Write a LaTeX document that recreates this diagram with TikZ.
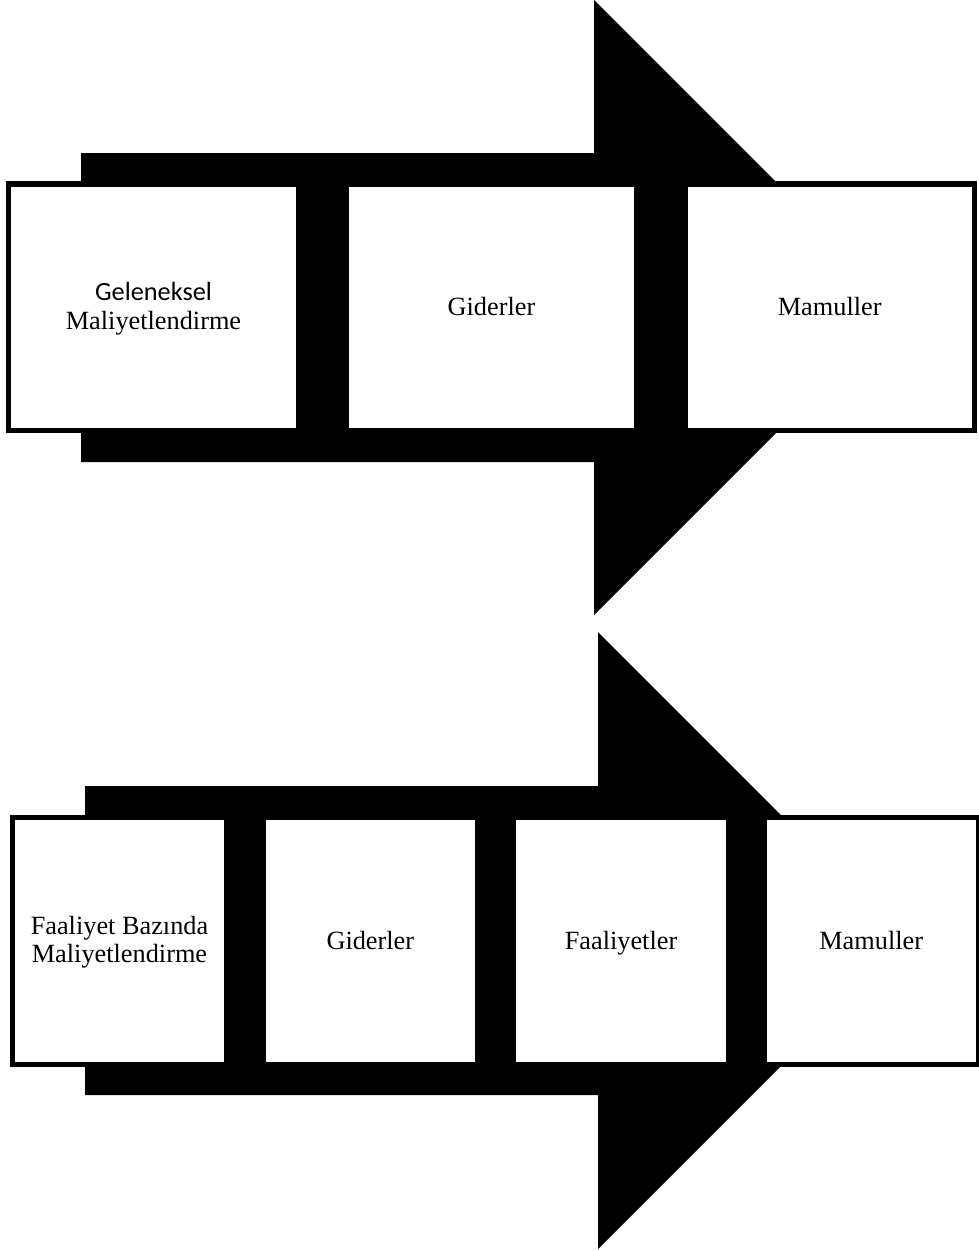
\documentclass[tikz,border=0pt]{standalone}
\usepackage{fontspec}
\setmainfont{Liberation Serif}
\newfontfamily\calibrifont{Carlito}
\begin{document}
\begin{tikzpicture}[x=1pt,y=-1pt,
  box/.style={draw=black, line width=5.3pt, fill=white, rectangle, inner sep=0pt, outer sep=0pt},
  topbox/.style={box, minimum width=290.4pt, minimum height=246.3pt},
  botbox/.style={box, minimum width=214.5pt, minimum height=246.7pt},
  lbl/.style={inner sep=0pt, outer sep=0pt, anchor=base, font=\fontsize{26.3}{28}\selectfont},
  lblsans/.style={lbl, font=\calibrifont\fontsize{26.3}{28}\selectfont},
  bigarrow/.style={fill=black}]
\useasboundingbox (0,0) rectangle (978,1251);
% top arrow
\fill[bigarrow] (81,153) -- (594,153) -- (594,0) -- (901.5,307.5) -- (594,615) -- (594,462) -- (81,462) -- cycle;
% bottom arrow
\fill[bigarrow] (85,786) -- (598,786) -- (598,632) -- (906.5,940.5) -- (598,1249) -- (598,1095) -- (85,1095) -- cycle;
% top boxes
\node[topbox] (a1) at (153.5,307.15) {};
\node[topbox] (a2) at (491.5,307.15) {};
\node[topbox, minimum width=289.5pt] (a3) at (829.7,307.15) {};
\node[lblsans] (a1t) at ([yshift=6.3pt]a1.center) {Geleneksel};
\node[lbl] (a1u) at ([yshift=-21.9pt]a1.center) {Maliyetlendirme};
\node[lbl] (a2t) at ([yshift=-8.2pt]a2.center) {Giderler};
\node[lbl] (a3t) at ([yshift=-8.2pt]a3.center) {Mamuller};
% bottom boxes
\node[botbox] (b1) at (119.5,940.85) {};
\node[botbox] (b2) at (370.35,940.85) {};
\node[botbox] (b3) at (621,940.85) {};
\node[botbox] (b4) at (871.2,940.85) {};
\node[lbl] (b1t) at ([yshift=5.9pt]b1.center) {Faaliyet Bazında};
\node[lbl] (b1u) at ([yshift=-21.9pt]b1.center) {Maliyetlendirme};
\node[lbl] (b2t) at ([yshift=-8.2pt]b2.center) {Giderler};
\node[lbl] (b3t) at ([yshift=-8.2pt]b3.center) {Faaliyetler};
\node[lbl] (b4t) at ([yshift=-8.2pt]b4.center) {Mamuller};
\end{tikzpicture}
\end{document}
